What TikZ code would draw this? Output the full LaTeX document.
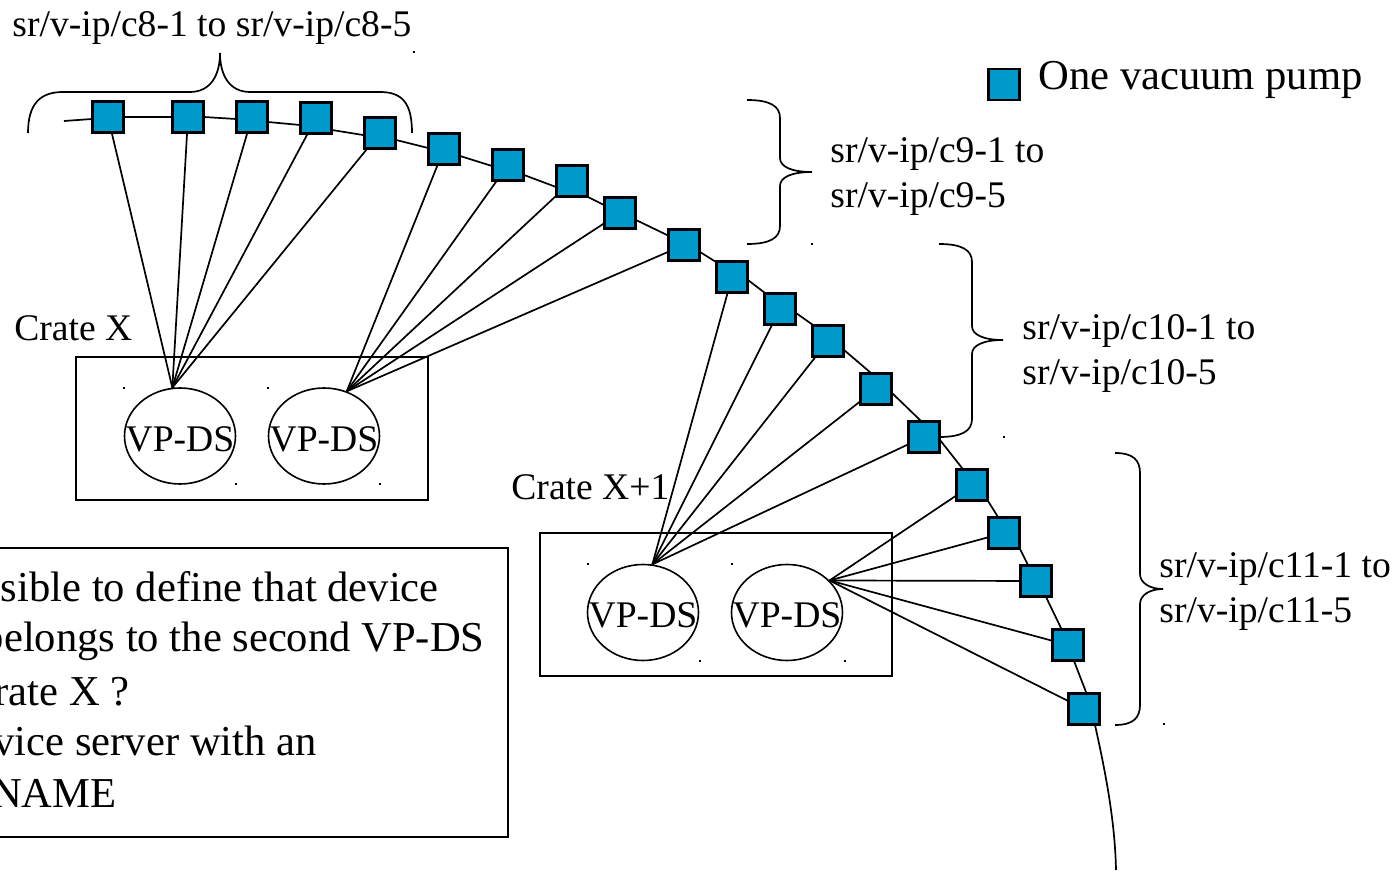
\documentclass[tikz,border=0pt]{standalone}
\usepackage{fontspec}
\setmainfont{Liberation Serif}
\usetikzlibrary{shapes.geometric}
\definecolor{pump}{RGB}{0,153,204}
\begin{document}
\begin{tikzpicture}[x=0.5pt,y=-0.5pt,
  pumpbox/.style={draw=black, line width=1.1pt, fill=pump, minimum size=15.5pt, inner sep=0pt},
  ds/.style={draw, ellipse, line width=0.8pt, minimum width=55.5pt, minimum height=48pt, inner sep=0pt},
  crate/.style={draw, line width=0.9pt, inner sep=0pt, minimum width=176pt, minimum height=71.5pt},
  lbl/.style={font=\fontsize{18.8}{22}\selectfont, inner sep=0pt},
  big/.style={font=\fontsize{21.3}{25}\selectfont, inner sep=0pt},
  wire/.style={line width=0.85pt},
  track/.style={line width=0.85pt, line join=round},
  bracepath/.style={line width=0.85pt},
  speck/.style={fill=black}]
\useasboundingbox (0,0) rectangle (1399,871);

% crates and device servers
\node[crate] (crateX) at (252,428.5) {};
\node[crate] (crateY) at (716,604.5) {};
\node[ds] (e1) at (180,436) {};
\node[ds] (e2) at (324,436) {};
\node[ds] (e3) at (643,612.5) {};
\node[ds] (e4) at (787,612.5) {};
\node[lbl] (t1) at (180,439) {VP-DS};
\node[lbl] (t2) at (324,439) {VP-DS};
\node[lbl] (t3) at (643,615.5) {VP-DS};
\node[lbl] (t4) at (787,615.5) {VP-DS};
\node[lbl, anchor=base west] (cx) at (14,341) {Crate X};
\node[lbl, anchor=base west] (cy) at (511,500) {Crate X+1};

% beam line
\draw[track] (64,121) -- (92,119) -- (124,117) -- (172,117) -- (204,117) -- (236,119)
  -- (268,122) -- (300,125) -- (332,130) -- (363,135) -- (396,140) -- (428,148)
  -- (460,156) -- (492,166) -- (524,175) -- (556,187) -- (588,197) -- (604,205)
  -- (636,220) -- (667,235) -- (700,252) -- (716,262) -- (748,280) -- (765,293)
  -- (796,313) -- (813,325) -- (844,350) -- (871,373) -- (892,393) -- (921,421)
  -- (940,440) -- (962,468) -- (988,501) -- (998,517) -- (1020,549) -- (1028,565)
  -- (1046,597) -- (1061,628) -- (1074,661) -- (1086,692) -- (1095,725)
  .. controls (1105,770) and (1115,820) .. (1116,870);

% pumps
\foreach \n/\p in {1/{(108,117)},2/{(188,117)},3/{(252,117)},4/{(316,118)},5/{(380,133)},
  6/{(444,149)},7/{(508,165)},8/{(572,181)},9/{(620,213)},10/{(684,245)},
  11/{(732,277)},12/{(780,309)},13/{(828,341)},14/{(876,389)},15/{(924,437)},
  16/{(972,485)},17/{(1004,533)},18/{(1036,581)},19/{(1068,645)},20/{(1084,709)}}
  \node[pumpbox] (s\n) at \p {};

% wires
\foreach \n in {1,...,5} \draw[wire] (s\n) -- (e1.99);
\foreach \n in {6,...,10} \draw[wire] (s\n) -- (e2.63);
\foreach \n in {11,...,15} \draw[wire] (s\n) -- (e3.79);
\foreach \n in {16,...,20} \draw[wire] (s\n) -- (e4.37);

% braces
\draw[bracepath] (28,133) .. controls (28,104) and (40,92) .. (63,92) -- (190,92)
  .. controls (210,92) and (220,76) .. (220,53) .. controls (220,76) and (230,92) .. (250,92)
  -- (380,92) .. controls (403,92) and (412,104) .. (412,133);
\draw[bracepath] (747,100) .. controls (770,100) and (780,106) .. (780,118) -- (780,158)
  .. controls (780,167) and (792,172) .. (812,172) .. controls (792,172) and (780,177) .. (780,186)
  -- (780,226) .. controls (780,238) and (770,244) .. (747,244);
\draw[bracepath] (939,244) .. controls (962,244) and (972,250) .. (972,262) -- (972,326)
  .. controls (972,335) and (984,340) .. (1003,340) .. controls (984,340) and (972,345) .. (972,354)
  -- (972,419) .. controls (972,431) and (962,437) .. (939,437);
\draw[bracepath] (1115,453) .. controls (1133,453) and (1140,460) .. (1140,473) -- (1140,574)
  .. controls (1140,583) and (1150,589) .. (1163,589) .. controls (1150,589) and (1140,595) .. (1140,604)
  -- (1140,705) .. controls (1140,718) and (1133,725) .. (1115,725);

% brace labels
\node[lbl, anchor=base west] (l8) at (12,37) {sr/v-ip/c8-1 to sr/v-ip/c8-5};
\node[lbl, anchor=base west] (l9a) at (830,163) {sr/v-ip/c9-1 to};
\node[lbl, anchor=base west] (l9b) at (830,208) {sr/v-ip/c9-5};
\node[lbl, anchor=base west] (l10a) at (1022,340) {sr/v-ip/c10-1 to};
\node[lbl, anchor=base west] (l10b) at (1022,385) {sr/v-ip/c10-5};
\node[lbl, anchor=base west] (l11a) at (1159,578) {sr/v-ip/c11-1 to};
\node[lbl, anchor=base west] (l11b) at (1159,623) {sr/v-ip/c11-5};

% legend
\node[pumpbox] (legsq) at (1004,84.5) {};
\node[big, anchor=base west] (legtxt) at (1038,90) {One vacuum pump};

% note box
\draw[line width=0.9pt] (-20,548) rectangle (508,837);
\node[big, anchor=base east] (n1) at (439,602) {sible to define that device};
\node[big, anchor=base east] (n2) at (485,652) {belongs to the second VP-DS};
\node[big, anchor=base east] (n3) at (130,705) {rate X ?};
\node[big, anchor=base east] (n4) at (317,755) {vice server with an};
\node[big, anchor=base east] (n5) at (117,807) {NAME};

% stray specks
\foreach \p in {(414,52),(124,388),(268,388),(236,484),(380,484),(588,564),(732,564),
  (700,661),(845,661),(812,244),(1004,437),(1164,724)}
  \fill[speck] \p ++(-1.2,-1) rectangle ++(2.4,2);
\end{tikzpicture}
\end{document}
